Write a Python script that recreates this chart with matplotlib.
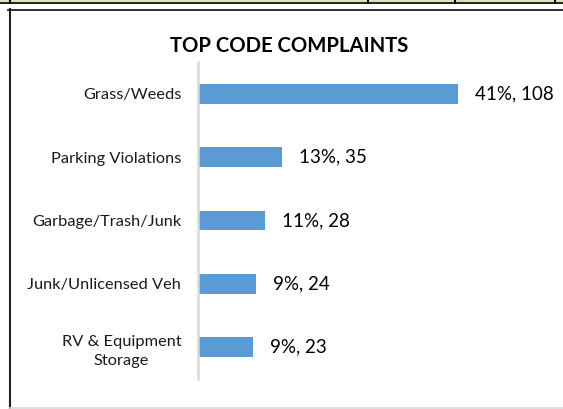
import matplotlib
matplotlib.use('Agg')
import matplotlib.pyplot as plt
from matplotlib.lines import Line2D
from matplotlib.patches import Rectangle

# Data
categories = ['Grass/Weeds', 'Parking Violations', 'Garbage/Trash/Junk',
              'Junk/Unlicensed Veh', 'RV & Equipment\nStorage']
counts = [108, 35, 28, 24, 23]
percents = [41, 13, 11, 9, 9]

W, H = 563, 409
plt.rcParams['font.family'] = ['Lato', 'DejaVu Sans']

fig = plt.figure(figsize=(W / 100, H / 100), dpi=100)
fig.patch.set_facecolor('white')

# page decorations: table row above the chart and chart frame
fig.patches.append(Rectangle((0, 1 - 2.5 / H), 1, 2.5 / H, transform=fig.transFigure,
                             facecolor='#d8e4bc', edgecolor='none'))
fig.lines.append(Line2D([0, 1], [1 - 3 / H] * 2, transform=fig.transFigure,
                        color='black', lw=1.2))
for xp in [10, 368, 455, 555]:
    fig.lines.append(Line2D([xp / W] * 2, [1, 1 - 3 / H], transform=fig.transFigure,
                            color='black', lw=1.5))
fig.lines.append(Line2D([8 / W, 1], [1 - 9.5 / H] * 2, transform=fig.transFigure,
                        color='#202020', lw=1.3))
fig.lines.append(Line2D([9.5 / W] * 2, [1 - 9 / H, 1 - 408 / H], transform=fig.transFigure,
                        color='#202020', lw=1.5))
fig.lines.append(Line2D([9 / W, 1], [1 - 407.5 / H] * 2, transform=fig.transFigure,
                        color='#d9d9d9', lw=1.2))

ax = fig.add_axes([198 / W, 1 - 379 / H, 350 / W, 317 / H])
y = list(range(len(categories)))
ax.barh(y, counts, height=0.315, color='#5b9bd5', edgecolor='none')
ax.set_ylim(len(categories) - 0.5, -0.5)
ax.set_xlim(0, 145.4)

for i, (c, p) in enumerate(zip(counts, percents)):
    ax.text(c + 7, i, f'{p}%, {c}', va='center', ha='left', fontsize=13.5, color='black')

ax.set_yticks(y)
ax.set_yticklabels(categories, fontsize=11.8, color='#1a1a1a', ha='right',
                   multialignment='center', linespacing=1.45)
ax.tick_params(axis='y', length=0, pad=12)
ax.set_xticks([])
for s in ['top', 'right', 'bottom']:
    ax.spines[s].set_visible(False)
ax.spines['left'].set_color('#d9d9d9')
ax.spines['left'].set_linewidth(1.8)

fig.text(289.5 / W, 1 - 46 / H, 'TOP CODE COMPLAINTS', ha='center', va='center',
         fontsize=14.6, fontweight='bold', color='black')

fig.savefig('out.png', dpi=100)
